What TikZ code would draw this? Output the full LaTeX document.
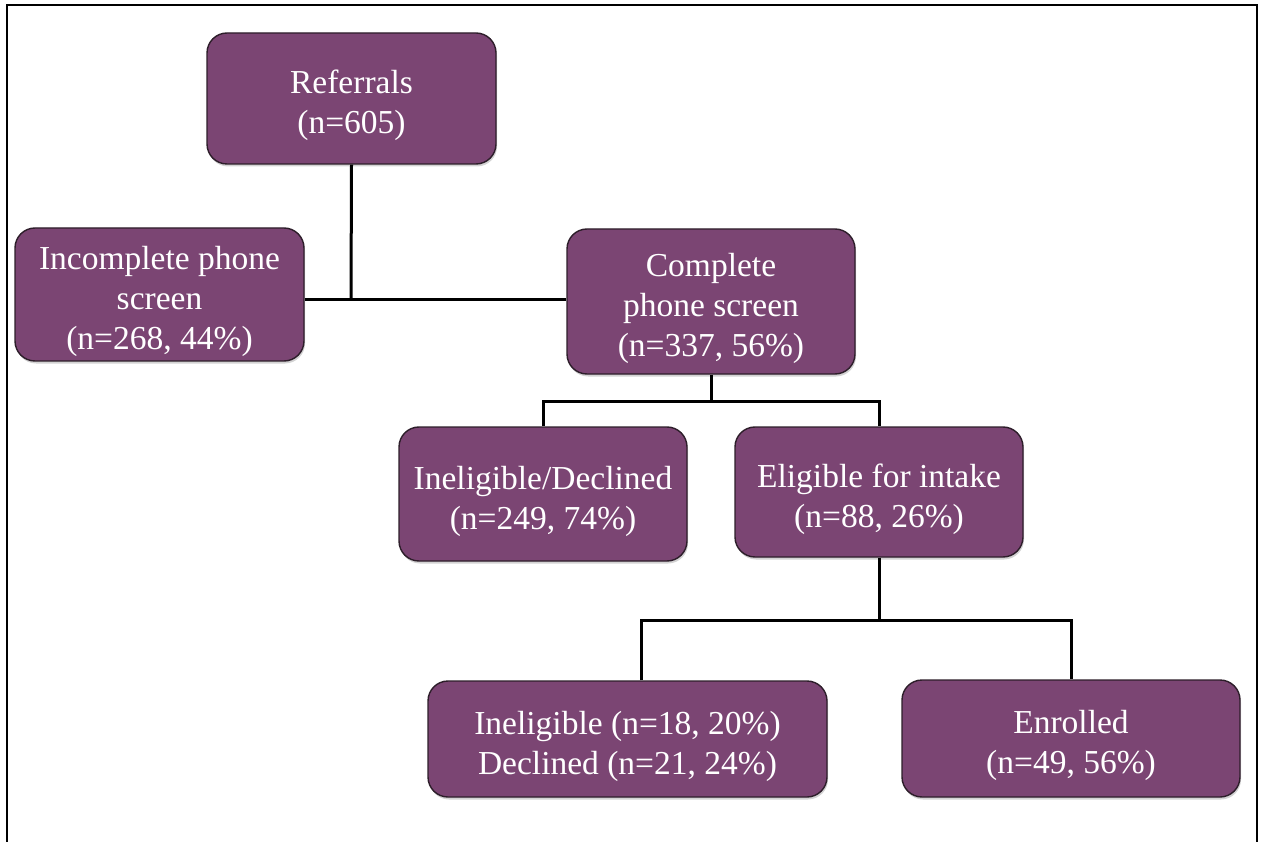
\documentclass[tikz,border=0pt]{standalone}
\usepackage{fontspec}
\setmainfont{Liberation Serif}
\usetikzlibrary{shadows}
\definecolor{boxpurple}{RGB}{123,69,115}
\definecolor{boxedge}{RGB}{45,30,42}
\newcommand{\topgap}{\rule{0pt}{38pt}}
\tikzset{
  flowbox/.style={draw=boxedge, line width=1.4pt, fill=boxpurple, rounded corners=20pt,
    text=white, align=center, inner sep=0pt,
    font=\fontsize{33.5}{40}\selectfont,
    drop shadow={shadow xshift=1pt, shadow yshift=-2.5pt, opacity=0.35}},
  link/.style={draw=black, line width=3pt},
  frame/.style={draw=black, line width=2.5pt}
}
\begin{document}
\begin{tikzpicture}[x=1pt,y=-1pt]
\useasboundingbox (0,0) rectangle (1264,842);
\draw[frame] (7,843) -- (7,5) -- (1257,5) -- (1257,843);

\node[flowbox, minimum width=289pt, minimum height=131pt] (ref) at (351.5,98.5) {\topgap Referrals\\(n=605)};
\node[flowbox, minimum width=289pt, minimum height=133pt] (inc) at (159.5,294.5) {\topgap Incomplete phone\\screen\\(n=268, 44\%)};
\node[flowbox, minimum width=288pt, minimum height=145pt] (comp) at (711,301.5) {\topgap Complete\\phone screen\\(n=337, 56\%)};
\node[flowbox, minimum width=288pt, minimum height=134pt] (ind) at (543,494) {\topgap Ineligible/Declined\\(n=249, 74\%)};
\node[flowbox, minimum width=288pt, minimum height=130pt] (elig) at (879,492) {\topgap Eligible for intake\\(n=88, 26\%)};
\node[flowbox, minimum width=399pt, minimum height=116pt] (ind2) at (627.5,739) {\topgap Ineligible (n=18, 20\%)\\Declined (n=21, 24\%)};
\node[flowbox, minimum width=338pt, minimum height=117pt] (enr) at (1071,738.5) {\topgap Enrolled\\(n=49, 56\%)};

\coordinate (j1) at (351,300);
\coordinate (j2) at (711,401);
\coordinate (j3) at (879,620);
\coordinate (j3l) at (641,620);

\draw[link] (ref.south) -- (j1);
\draw[link] (inc.east |- j1) -- (comp.west |- j1);

\draw[link] (comp.south) -- (j2);
\draw[link] (ind.north) -- (ind.north |- j2) -- (elig.north |- j2) -- (elig.north);

\draw[link] (elig.south) -- (j3);
\draw[link] (j3l |- ind2.north) -- (j3l) -- (enr.north |- j3) -- (enr.north);
\end{tikzpicture}
\end{document}
